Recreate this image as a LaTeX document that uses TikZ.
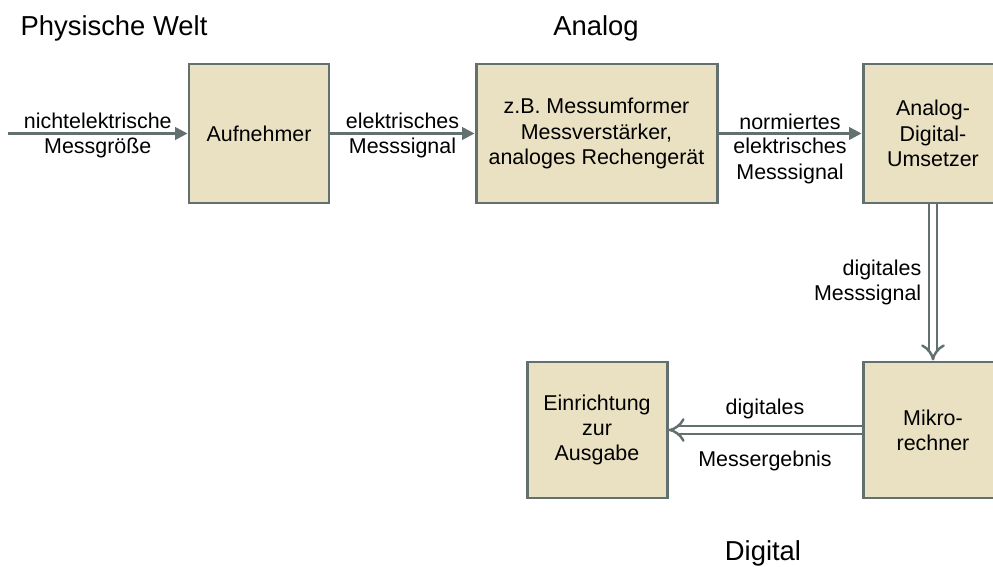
\documentclass[tikz,border=0pt]{standalone}
\usepackage{fontspec}
\setmainfont{Liberation Sans}
\usetikzlibrary{arrows.meta}
\definecolor{boxfill}{RGB}{233,225,194}
\definecolor{boxline}{RGB}{98,112,112}
\begin{document}
\begin{tikzpicture}
[
	x=0.02cm,y=-0.02cm,
	block/.style={rectangle,draw=boxline,fill=boxfill,line width=1.7pt,align=center,inner sep=2pt,font=\fontsize{12.2}{14.4}\selectfont},
	lbl/.style={font=\fontsize{12.2}{14.4}\selectfont,align=center},
	heading/.style={font=\fontsize{15.6}{18}\selectfont},
	sig/.style={draw=boxline,line width=1.5pt,-{Triangle[length=7pt,width=7pt]}},
	dsig/.style={draw=boxline,line width=1.4pt,double=white,double distance=3.2pt,-{Implies}},
	scale=1
]

	\useasboundingbox (0,0) rectangle (993,567);
	\clip (0,0) rectangle (993,567);

	\node[heading] at (114,28) (welt) {Physische Welt};
	\node[heading] at (596,28) (analog) {Analog};
	\node[heading] at (763,553) (digital) {Digital};

	\node[block,minimum width=140*0.02cm,minimum height=139*0.02cm] at (259,133.5) (aufn) {Aufnehmer};
	\node[block,minimum width=241*0.02cm,minimum height=139*0.02cm] at (596.5,133.5) (mess) {z.B. Messumformer\\Messverstärker,\\analoges Rechengerät};
	\node[block,minimum width=140*0.02cm,minimum height=139*0.02cm] at (933,133.5) (adu) {Analog-\\Digital-\\Umsetzer};
	\node[block,minimum width=140*0.02cm,minimum height=136*0.02cm] at (933,430) (mikro) {Mikro-\\rechner};
	\node[block,minimum width=140*0.02cm,minimum height=136*0.02cm] at (597,430) (ausg) {Einrichtung\\zur\\Ausgabe};

	\coordinate (ein) at (8,133.5);

	\draw[sig] (ein) -- node[lbl,above,inner sep=2pt] {nichtelektrische} node[lbl,below,inner sep=2pt] {Messgröße} (aufn);
	\draw[sig] (aufn) -- node[lbl,above,inner sep=2pt] {elektrisches} node[lbl,below,inner sep=2pt] {Messsignal} (mess);
	\draw[sig] (mess) -- node[lbl,above,inner sep=1.5pt] {normiertes} node[lbl,below,inner sep=2pt] {elektrisches\\Messsignal} (adu);

	\draw[dsig] (adu) -- node[lbl,left,align=right,inner sep=6pt] {digitales\\Messsignal} (mikro);
	\draw[dsig] (mikro) -- node[lbl,above,inner sep=5.5pt] {digitales} node[lbl,below,inner sep=11.5pt] {Messergebnis} (ausg);

\end{tikzpicture}
\end{document}
